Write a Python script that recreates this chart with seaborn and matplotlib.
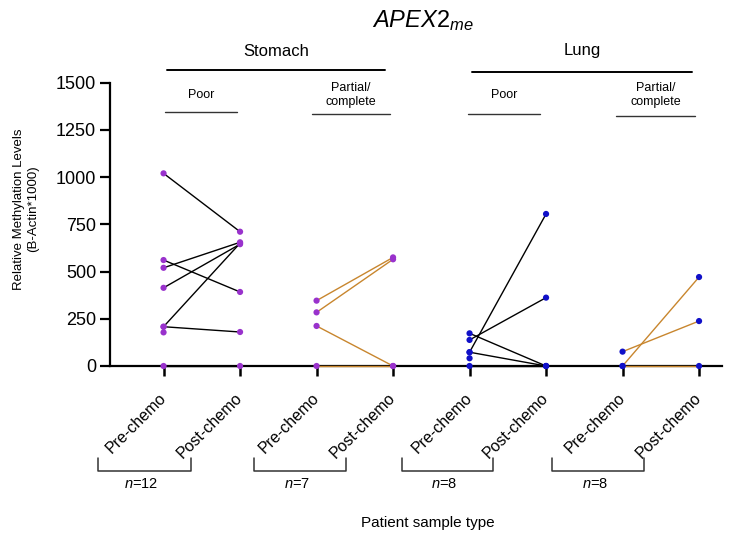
import numpy as np
import pandas as pd
import matplotlib
matplotlib.use("Agg")
import matplotlib.pyplot as plt
from matplotlib.lines import Line2D
import seaborn as sns

# values (B-Actin*1000), nan = no partner sample
stomach_poor_pre = [1020, 561, 520, 414, 208, 208, 178, 0]
stomach_poor_post = [711, 392, 655, 645, 650, 180, np.nan, 0]
stomach_partial_pre = [346, 284, 212, 0]
stomach_partial_post = [575, 565, 0, 0]
lung_poor_pre = [173, 138, 73, 73, 41, 0]
lung_poor_post = [0, 362, 805, 0, np.nan, 0]
lung_partial_pre = [0, 76, 0]
lung_partial_post = [471, 238, 0]

groups = ["Stomach poor", "Stomach partial", "Lung poor", "Lung partial"]
tissues = ["Stomach", "Stomach", "Lung", "Lung"]
tick_labels = ["Pre-chemo", "Post-chemo"] * 4
n_labels = ["12", "7", "8", "8"]

pairs = [
    (stomach_poor_pre, stomach_poor_post),
    (stomach_partial_pre, stomach_partial_post),
    (lung_poor_pre, lung_poor_post),
    (lung_partial_pre, lung_partial_post),
]

rows = []
for g, (pre, post) in enumerate(pairs):
    for i, (a, b) in enumerate(zip(pre, post)):
        rows.append({"group": groups[g], "tissue": tissues[g], "pid": f"{g}-{i}", "pos": 2 * g, "value": a})
        rows.append({"group": groups[g], "tissue": tissues[g], "pid": f"{g}-{i}", "pos": 2 * g + 1, "value": b})
df = pd.DataFrame(rows)

line_colors = {"Stomach poor": "black", "Stomach partial": "#C8862E",
               "Lung poor": "black", "Lung partial": "#C8862E"}
point_colors = {"Stomach": "#9932CC", "Lung": "#1010C8"}

sns.set_theme(style="ticks")
plt.rcParams["font.family"] = ["Liberation Sans", "DejaVu Sans"]
plt.rcParams["mathtext.fontset"] = "custom"
plt.rcParams["mathtext.rm"] = "Liberation Sans"
plt.rcParams["mathtext.it"] = "Liberation Sans:italic"
plt.rcParams["text.color"] = "black"
plt.rcParams["xtick.color"] = "black"
plt.rcParams["ytick.color"] = "black"

W, H = 740, 538
fig = plt.figure(figsize=(W / 100, H / 100), dpi=100)
ax = fig.add_axes([110 / W, 1 - 366 / H, 612 / W, (366 - 82.7) / H])


def px(x, y):
    return x / W, 1 - y / H


# paired lines
for g in groups:
    sub = df[df["group"] == g].dropna()
    sns.lineplot(data=sub, x="pos", y="value", units="pid", estimator=None,
                 color=line_colors[g], lw=1.0, ax=ax, legend=False,
                 clip_on=False, zorder=3)

# points
sns.scatterplot(data=df.dropna(), x="pos", y="value", hue="tissue",
                palette=point_colors, s=20, linewidth=0, ax=ax,
                legend=False, clip_on=False, zorder=4)

ax.set_xlim(-0.7, 7.3)
ax.set_ylim(0, 1500)
ax.set_yticks(range(0, 1501, 250))
ax.set_xticks(range(8))
ax.set_xticklabels(tick_labels, rotation=45, ha="right", va="center",
                   rotation_mode="anchor", fontsize=11.5)
ax.tick_params(axis="y", labelsize=13, width=1.6, length=7, color="black", labelcolor="black", pad=3)
ax.tick_params(axis="x", width=1.8, length=7, color="black", labelcolor="black", pad=14)
ax.set_xlabel("")
ax.set_ylabel("")
sns.despine(ax=ax)
for s in ["left", "bottom"]:
    ax.spines[s].set_linewidth(1.6)
    ax.spines[s].set_color("black")

# y label
fig.text(*px(26, 209), "Relative Methylation Levels\n(B-Actin*1000)", rotation=90,
         ha="center", va="center", fontsize=9.5, multialignment="center")

# title
fig.text(*px(423, 21), r"$\mathit{APEX2}_{\mathit{me}}$", ha="center", va="center", fontsize=17)

# tissue headers
for label, x0, x1, y in [("Stomach", 167, 385, 70), ("Lung", 472, 692, 72)]:
    fig.text(*px((x0 + x1) / 2, 51), label, ha="center", va="center", fontsize=12)
    fig.add_artist(Line2D([x0 / W, x1 / W], [1 - y / H] * 2, color="black", lw=1.4))

# response subgroups
for label, x0, x1, y in [("Poor", 165, 237, 112), ("Partial/\ncomplete", 312, 390, 114),
                         ("Poor", 468, 540, 114), ("Partial/\ncomplete", 616, 695, 116)]:
    fig.text(*px((x0 + x1) / 2, 95), label, ha="center", va="center", fontsize=9)
    fig.add_artist(Line2D([x0 / W, x1 / W], [1 - y / H] * 2, color="#333333", lw=1.0))

# n brackets below tick labels
for n, (x0, x1) in zip(n_labels, [(98, 191), (254, 346), (402, 493), (552, 644)]):
    xs = [x0 / W, x0 / W, x1 / W, x1 / W]
    ys = [1 - 458 / H, 1 - 471 / H, 1 - 471 / H, 1 - 458 / H]
    fig.add_artist(Line2D(xs, ys, color="#333333", lw=1.1))
    fig.text(*px((x0 + x1) / 2 - 3, 484), rf"$\mathit{{n}}$={n}", ha="center", va="center", fontsize=10.5)

fig.text(*px(428, 523), "Patient sample type", ha="center", va="center", fontsize=11)

fig.savefig("out.png", dpi=100)
